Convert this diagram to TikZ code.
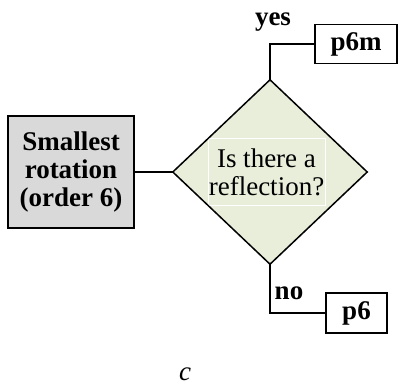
\documentclass[tikz,border=0pt]{standalone}
\usepackage{fontspec}
\setmainfont{Liberation Serif}
\usetikzlibrary{shapes.geometric}
\definecolor{dgreen}{RGB}{232,238,218}
\definecolor{lgray}{RGB}{217,217,217}
\tikzset{
  txt/.style={font=\fontsize{27}{28}\selectfont, align=center, inner sep=0pt},
  btxt/.style={txt, font=\fontsize{27}{28}\selectfont\bfseries},
  box/.style={draw=black, line width=1.6pt, inner sep=0pt, btxt},
  conn/.style={draw=black, line width=1.5pt},
}
\begin{document}
\begin{tikzpicture}[x=1pt,y=-1pt]
\useasboundingbox (0,0) rectangle (398,390);
\node[diamond, fill=dgreen, minimum width=194pt, minimum height=184pt, inner sep=0pt] (q) at (270,172) {};
\node[txt, draw=white, line width=1pt, fill=dgreen, minimum width=117pt, minimum height=66pt] (qt) at (266.5,172) {Is there a\\reflection?};
\draw[conn] (q.north) -- (q.east) -- (q.south) -- (q.west) -- cycle;
\node[box, fill=lgray, minimum width=126pt, minimum height=112pt] (src) at (71,172) {Smallest\\rotation\\(order 6)};
\node[box, fill=white, minimum width=82pt, minimum height=39pt] (p6m) at (356,44) {p6m};
\node[box, fill=white, minimum width=61pt, minimum height=40pt] (p6) at (356.5,313) {p6};
\draw[conn] (src.east) -- (q.west);
\draw[conn] (q.north) |- (p6m.west);
\draw[conn] (q.south) |- (p6.west);
\node[btxt] (yes) at (273,22) {yes};
\node[btxt] (no) at (289,293) {no};
\node[txt, font=\fontsize{27}{28}\selectfont\itshape] (c) at (185,374) {c};
\end{tikzpicture}
\end{document}
